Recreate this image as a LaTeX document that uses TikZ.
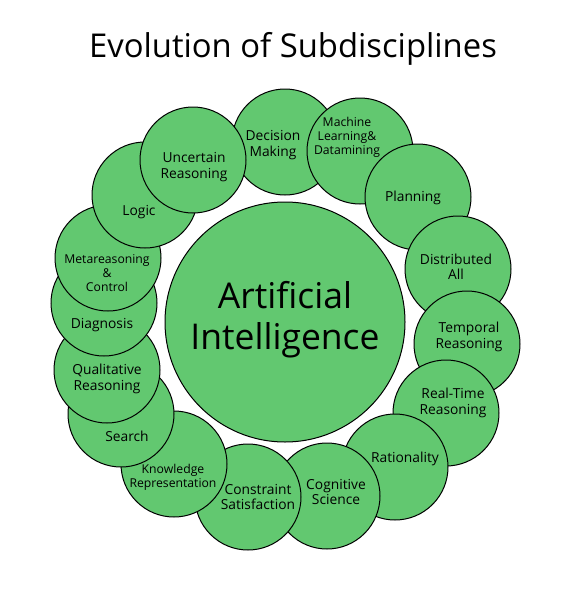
\documentclass[tikz,border=0pt]{standalone}
\usepackage{fontspec}
\setmainfont{Open Sans}
\definecolor{aigreen}{RGB}{98,200,112}
\begin{document}
\begin{tikzpicture}[x=1pt,y=-1pt,
  sub/.style={circle,draw=black,line width=1pt,fill=aigreen,minimum size=106pt,inner sep=0pt},
  lbl/.style={align=center,font=\fontsize{13.8}{15.5}\selectfont,inner sep=0pt},
  lbls/.style={align=center,font=\fontsize{12.2}{14}\selectfont,inner sep=0pt}]
\useasboundingbox (0,0) rectangle (561,597);
\node[anchor=base,font=\fontsize{32.8}{38}\selectfont,inner sep=0pt] (title) at (293,57) {Evolution of Subdisciplines};
\node[sub,minimum size=240pt] (ai) at (285,322) {};
\node[align=center,font=\fontsize{35.5}{41}\selectfont,inner sep=0pt] (ait) at (285,320) {Artificial\\Intelligence};
% ring, drawn clockwise from Decision Making
\node[sub] (dm) at (285,142) {};
\node[lbl] (dmt) at (273,145) {Decision\\Making};
\node[sub] (ml) at (360,151) {};
\node[lbls] (mlt) at (347,137) {Machine\\Learning\&\\Datamining};
\node[sub] (pl) at (418,197) {};
\node[lbl] (plt) at (413,198) {Planning};
\node[sub] (da) at (458,269) {};
\node[lbl] (dat) at (456,267) {Distributed\\All};
\node[sub] (tr) at (467,344) {};
\node[lbl] (trt) at (469,337) {Temporal\\Reasoning};
\node[sub] (rt) at (446,413) {};
\node[lbl] (rtt) at (453,403) {Real-Time\\Reasoning};
\node[sub] (ra) at (395,467) {};
\node[lbl] (rat) at (405,459) {Rationality};
\node[sub] (cs) at (327,496) {};
\node[lbl] (cst) at (336,492) {Cognitive\\Science};
\node[sub] (co) at (248,497) {};
\node[lbl] (cot) at (258,497) {Constraint\\Satisfaction};
\node[sub] (kr) at (174,464) {};
\node[lbls] (krt) at (173,477) {Knowledge\\Representation};
\node[sub] (se) at (121,414) {};
\node[lbl] (set) at (127,436) {Search};
\node[sub] (qr) at (107,370) {};
\node[lbl] (qrt) at (107,379) {Qualitative\\Reasoning};
\node[sub] (di) at (104,303) {};
\node[lbl] (dit) at (102,325) {Diagnosis};
\node[sub] (mc) at (108,258) {};
\node[lbls] (mct) at (107,273) {Metareasoning\\\&\\Control};
\node[sub] (lo) at (145,195) {};
\node[lbl] (lot) at (139,212) {Logic};
\node[sub] (ur) at (193,160) {};
\node[lbl] (urt) at (194,167) {Uncertain\\Reasoning};
\end{tikzpicture}
\end{document}
